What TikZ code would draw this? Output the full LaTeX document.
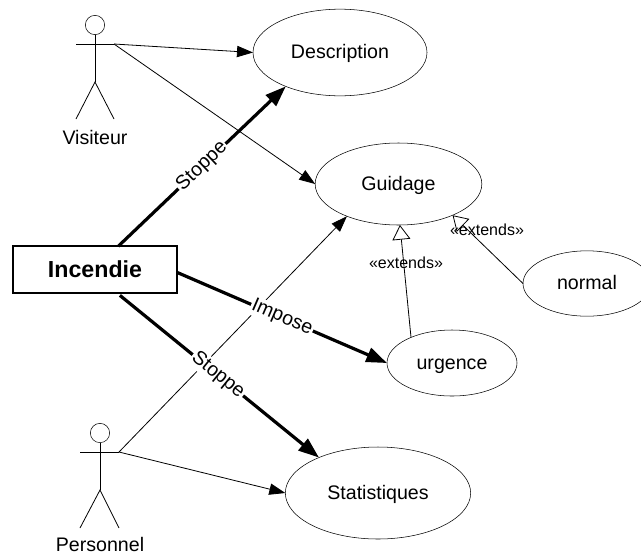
\documentclass[tikz,border=0pt]{standalone}
\usepackage{fontspec}
\setmainfont{Liberation Sans}
\usetikzlibrary{shapes.geometric,arrows.meta}
\tikzset{
usecase/.style={draw, ellipse, inner sep=0pt, outer sep=0pt, text height=9.5pt, text depth=0pt, font=\fontsize{14.7}{17}\selectfont},
actorhead/.style={draw, circle, inner sep=0pt, outer sep=0pt, minimum size=14.5pt},
actorname/.style={inner sep=0pt, font=\fontsize{14.7}{17}\selectfont},
event/.style={draw, line width=1.1pt, inner sep=0pt, outer sep=0pt, minimum width=123pt, minimum height=35pt, font=\fontsize{17.4}{20}\selectfont\bfseries},
link/.style={-{Triangle[length=12pt,width=8.5pt]}, line width=0.6pt},
trigger/.style={-{Triangle[length=15.5pt,width=11pt]}, line width=2.4pt},
extend/.style={-{Triangle[open,fill=white,length=11pt,width=13.5pt]}, line width=0.6pt},
verb/.style={midway, sloped, fill=white, inner sep=1pt, font=\fontsize{14.7}{17}\selectfont},
stereotype/.style={inner sep=0pt, font=\fontsize{12}{14}\selectfont}
}
\begin{document}
\begin{tikzpicture}[x=0.75pt,y=-0.75pt]
\useasboundingbox (0,0) rectangle (641,554);

\node[usecase, minimum width=130.5pt, minimum height=65pt] (description) at (340,52.5) {Description};
\node[usecase, minimum width=125pt, minimum height=61.5pt] (guidage) at (398.5,184) {Guidage};
\node[usecase, minimum width=96pt, minimum height=49pt] (normal) at (587,283.5) {normal};
\node[usecase, minimum width=97.5pt, minimum height=49.5pt] (urgence) at (452,363) {urgence};
\node[usecase, minimum width=139pt, minimum height=69pt] (statistiques) at (378,493) {Statistiques};
\node[event] (incendie) at (95,269.5) {Incendie};

\node[actorhead] (visiteur) at (95,25) {};
\coordinate (visiteurL) at (76,44);
\coordinate (visiteurR) at (114,44);
\coordinate (visiteurH) at (95,82);
\coordinate (visiteurA) at (76,119);
\coordinate (visiteurB) at (114,119);
\node[actorname] (visiteurname) at (95,137) {Visiteur};
\draw[line width=0.6pt] (visiteur) -- (visiteurH);
\draw[line width=0.6pt] (visiteurL) -- (visiteurR);
\draw[line width=0.6pt] (visiteurA) -- (visiteurH) -- (visiteurB);

\node[actorhead] (personnel) at (100,433) {};
\coordinate (personnelL) at (80,452);
\coordinate (personnelR) at (119,452);
\coordinate (personnelH) at (100,490);
\coordinate (personnelA) at (80,528);
\coordinate (personnelB) at (119,528);
\node[actorname] (personnelname) at (100,544.5) {Personnel};
\draw[line width=0.6pt] (personnel) -- (personnelH);
\draw[line width=0.6pt] (personnelL) -- (personnelR);
\draw[line width=0.6pt] (personnelA) -- (personnelH) -- (personnelB);

\draw[link] (visiteurR) -- (description.west);
\draw[link] (visiteurR) -- (guidage.west);
\draw[link] (personnelR) -- (guidage.212);
\draw[link] (personnelR) -- (statistiques.west);

\draw[trigger] (incendie.45) -- node[verb] {Stoppe} (description.212);
\draw[trigger] (incendie.-2) -- node[verb] {Impose} (urgence.west);
\draw[trigger, shorten <=3pt] (incendie.-47) -- node[verb] {Stoppe} (statistiques.149);

\draw[extend] (urgence.148) -- (guidage.-88);
\draw[extend] (normal.west) -- (guidage.-30);
\node[stereotype] (extendsurgence) at (406,263) {«extends»};
\node[stereotype] (extendsnormal) at (487,230) {«extends»};

\end{tikzpicture}
\end{document}
